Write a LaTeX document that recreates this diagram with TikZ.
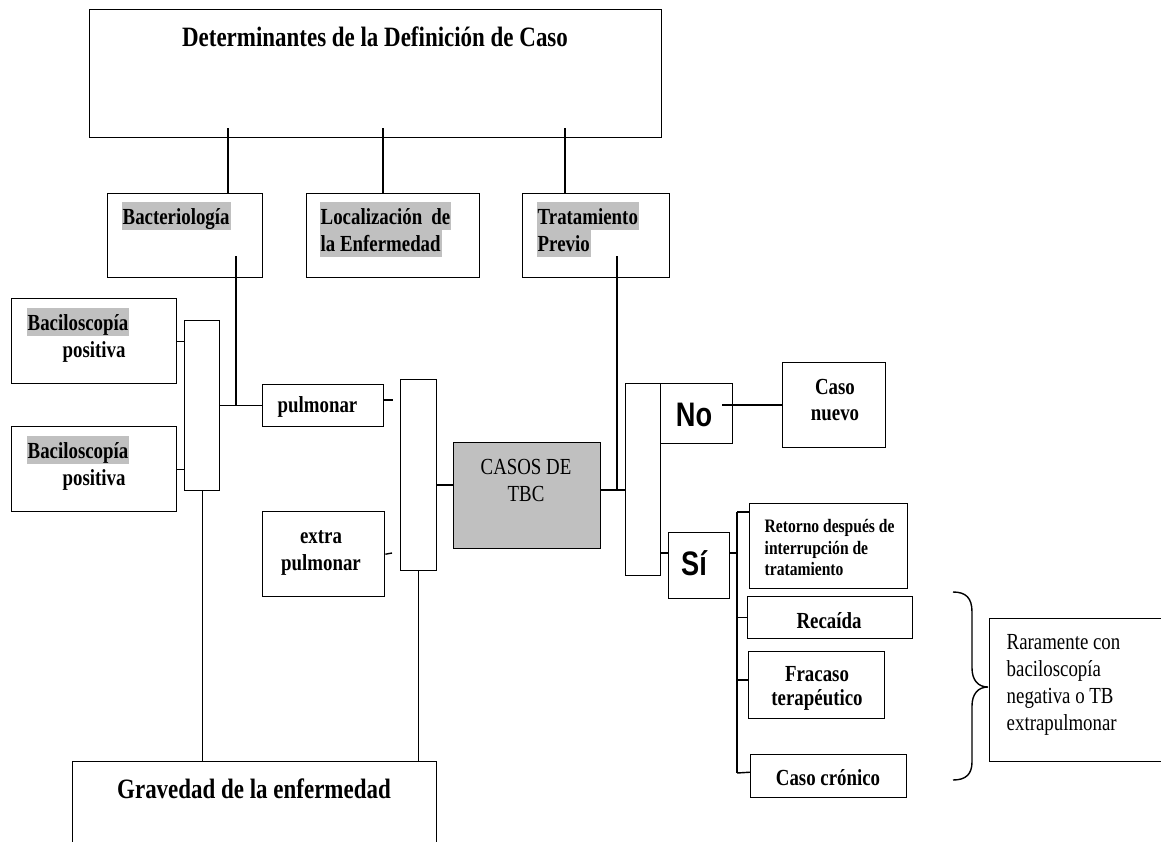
\documentclass[tikz,border=0pt]{standalone}
\usepackage{fontspec}
\setmainfont{Liberation Serif}[FakeStretch=0.82]
\newfontfamily\narrowsans{Liberation Sans}[FakeStretch=0.8]
\usepackage{xcolor}
\definecolor{silver}{HTML}{C0C0C0}

\begin{document}
\begin{tikzpicture}[x=1pt, y=-1pt, line width=1.4pt,
    box/.style={draw, inner sep=0pt, anchor=north west},
    bt/.style={inner sep=0pt, anchor=base, font=\fontsize{23}{27}\selectfont\bfseries},
    btl/.style={bt, anchor=base west},
    hl/.style={btl, fill=silver, inner xsep=1pt, text height=22pt, text depth=6pt},
    rt/.style={inner sep=0pt, anchor=base west, font=\fontsize{23}{27}\selectfont},
    big/.style={inner sep=0pt, anchor=base, font=\fontsize{28}{32}\selectfont\bfseries},
    yn/.style={inner sep=0pt, anchor=base, font=\fontsize{34}{38}\selectfont\narrowsans\bfseries},
    sm/.style={inner sep=0pt, anchor=base west, font=\fontsize{19}{22}\selectfont\bfseries}]
    \useasboundingbox (0,0) rectangle (1161,841);
    \clip (0,0) rectangle (1161,841);

    % boxes
    \node[box, minimum width=572pt, minimum height=128pt] (det) at (89,9) {};
    \node[box, minimum width=155pt, minimum height=84pt] (bact) at (107,193) {};
    \node[box, minimum width=173pt, minimum height=84pt] (loc) at (306,193) {};
    \node[box, minimum width=147pt, minimum height=84pt] (trat) at (522,193) {};
    \node[box, minimum width=165pt, minimum height=85pt] (bac1) at (11,298) {};
    \node[box, minimum width=165pt, minimum height=85pt] (bac2) at (11,426) {};
    \node[box, minimum width=35pt, minimum height=170pt] (r1) at (184,320) {};
    \node[box, minimum width=121pt, minimum height=42pt] (pulm) at (262,384) {};
    \node[box, minimum width=36pt, minimum height=191pt] (r2) at (400,379) {};
    \node[box, minimum width=122pt, minimum height=85pt] (extra) at (262,511) {};
    \node[box, fill=silver, minimum width=147pt, minimum height=106pt] (casos) at (453,442) {};
    \node[box, minimum width=35pt, minimum height=192pt] (r3) at (625,383) {};
    \node[box, minimum width=72pt, minimum height=60pt] (no) at (660,383) {};
    \node[box, minimum width=103pt, minimum height=85pt] (cnuevo) at (782,362) {};
    \node[box, minimum width=61pt, minimum height=66pt] (si) at (668,532) {};
    \node[box, minimum width=158pt, minimum height=85pt] (ret) at (749,503) {};
    \node[box, minimum width=165pt, minimum height=42pt] (rec) at (747,596) {};
    \node[box, minimum width=136pt, minimum height=67pt] (frac) at (748,651) {};
    \node[box, minimum width=156pt, minimum height=43pt] (cron) at (750,754) {};
    \node[box, minimum width=200pt, minimum height=143pt] (rar) at (989,618) {};
    \node[box, minimum width=364pt, minimum height=120pt] (grav) at (72,761) {};

    % texts
    \node[big] (tDet) at (375,46) {Determinantes de la Definición de Caso};
    \node[hl] (tBact) at (121,224) {Bacteriología};
    \node[hl] (tLoc1) at (319,224) {Localización\hspace{9pt}de};
    \node[hl] (tLoc2) at (319,251) {la Enfermedad};
    \node[hl] (tTrat1) at (536,224) {Tratamiento};
    \node[hl] (tTrat2) at (536,251) {Previo};
    \node[hl] (tBac1) at (26,330) {Baciloscopía};
    \node[btl] (tPos1) at (62,357) {positiva};
    \node[hl] (tBac2) at (26,458) {Baciloscopía};
    \node[btl] (tPos2) at (62,485) {positiva};
    \node[btl] (tPulm) at (277,412) {pulmonar};
    \node[bt] (tExt1) at (321,543) {extra};
    \node[bt] (tExt2) at (321,570) {pulmonar};
    \node[rt, anchor=base] (tCas1) at (526,474) {CASOS DE};
    \node[rt, anchor=base] (tCas2) at (526,501) {TBC};
    \node[yn] (tNo) at (694,426) {No};
    \node[bt] (tNue1) at (835,394) {Caso};
    \node[bt] (tNue2) at (835,420) {nuevo};
    \node[yn] (tSi) at (694,575) {Sí};
    \node[sm] (tRet1) at (764,532) {Retorno después de};
    \node[sm] (tRet2) at (764,554) {interrupción de};
    \node[sm] (tRet3) at (764,575) {tratamiento};
    \node[bt] (tRec) at (829,628) {Recaída};
    \node[bt] (tFra1) at (817,681) {Fracaso};
    \node[bt] (tFra2) at (817,705) {terapéutico};
    \node[bt] (tCro) at (828,785) {Caso crónico};
    \node[rt] (tRar1) at (1006,649) {Raramente con};
    \node[rt] (tRar2) at (1006,676) {baciloscopía};
    \node[rt] (tRar3) at (1006,703) {negativa o TB};
    \node[rt] (tRar4) at (1006,730) {extrapulmonar};
    \node[big] (tGrav) at (254,798) {Gravedad de la enfermedad};

    % connectors
    \coordinate (d1) at (228,128);
    \coordinate (d2) at (383,128);
    \coordinate (d3) at (565,128);
    \draw (d1) -- (d1 |- bact.north);
    \draw (d2) -- (d2 |- loc.north);
    \draw (d3) -- (d3 |- trat.north);

    \coordinate (b1) at (236,256);
    \draw (b1) -- (b1 |- pulm.west);
    \draw (r1.east |- pulm.west) -- (pulm.west);
    \draw (bac1.east) -- (bac1.east -| r1.west);
    \draw (bac2.east) -- (bac2.east -| r1.west);
    \coordinate (pt) at (393,400);
    \draw (pt -| pulm.east) -- (pt);
    \coordinate (et) at (392,553);
    \draw (extra.east) -- (et);
    \coordinate (cl) at (436,485);
    \draw (cl) -- (cl -| casos.west);

    \coordinate (t1) at (617,256);
    \coordinate (cr) at (600,490);
    \draw (t1) -- (t1 |- cr);
    \draw (cr) -- (cr -| r3.west);
    \coordinate (nl) at (722,405);
    \draw (nl) -- (nl -| cnuevo.west);
    \coordinate (sl) at (660,553);
    \draw (sl) -- (sl -| si.west);
    \coordinate (sr) at (737,553);
    \draw (sr -| si.east) -- (sr);

    \coordinate (vt) at (737,512);
    \coordinate (vf) at (737,680);
    \coordinate (vb) at (737,773);
    \draw (vt) -- (vb);
    \draw (vt) -- (vt -| ret.west);
    \draw (vt |- rec.west) -- (rec.west);
    \draw (vf) -- (vf -| frac.west);
    \draw (vb) -- ([yshift=4pt]cron.west);

    \draw (r1.south) -- (r1.south |- grav.north);
    \draw (r2.south) -- (r2.south |- grav.north);

    % brace
    \draw (953,592) .. controls (966,592) and (972,598) .. (972,612) -- (972,668)
        .. controls (972,680) and (978,687) .. (988,687)
        .. controls (978,687) and (972,694) .. (972,706) -- (972,762)
        .. controls (972,774) and (966,780) .. (953,780);
\end{tikzpicture}
\end{document}
